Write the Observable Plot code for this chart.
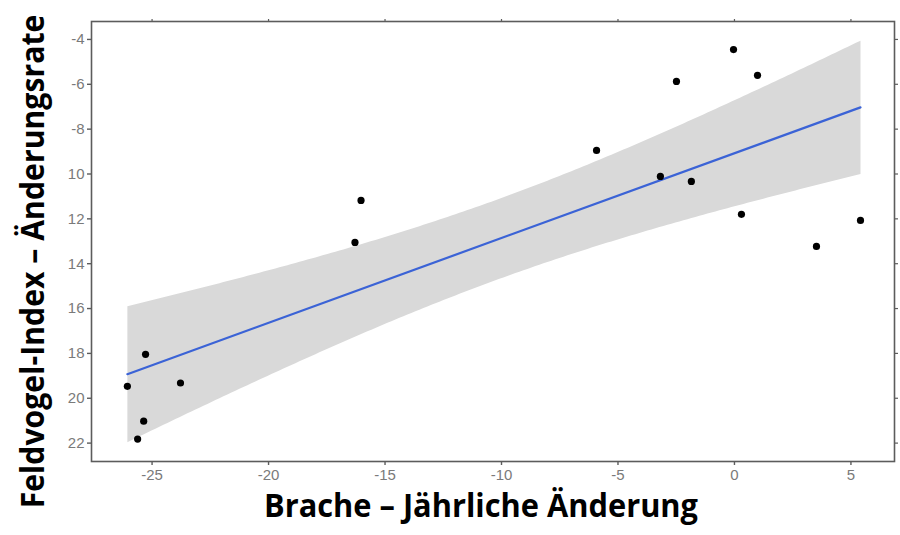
<!DOCTYPE html>
<html>
<head>
<meta charset="utf-8">
<script src="https://cdn.jsdelivr.net/npm/d3@7"></script>
<script src="https://cdn.jsdelivr.net/npm/@observablehq/plot@0.6"></script>
<style>
  html, body { margin: 0; padding: 0; background: #ffffff; }
  #chart { width: 900px; height: 535px; }
</style>
</head>
<body>
<div id="chart"></div>
<script>
// Data
const bracheChange  = [-26.06, -25.28, -25.36, -25.62, -23.78, -16.29, -16.03, -5.92, -3.18, -1.85, -2.49, -0.04, 0.99, 0.30, 3.52, 5.41];
const feldvogelRate = [-19.47, -18.04, -21.02, -21.82, -19.32, -13.05, -11.18, -8.95, -10.11, -10.33, -5.87, -4.45, -5.60, -11.80, -13.23, -12.07];

const xTicks = [-25, -20, -15, -10, -5, 0, 5];
const xTickLabels = ["-25", "-20", "-15", "-10", "-5", "0", "5"];
const yTicks = [-4, -6, -8, -10, -12, -14, -16, -18, -20, -22];
const yTickLabels = ["-4", "-6", "-8", "10", "12", "14", "16", "18", "20", "22"];

const xTitle = "Brache – Jährliche Änderung";
const yTitle = "Feldvogel-Index – Änderungsrate";

const data = bracheChange.map((x, i) => ({x, y: feldvogelRate[i]}));

const axisColor = "#5c5c5c";
const labelColor = "#7a7a7a";
const titleFont = "'Open Sans', 'Liberation Sans', sans-serif";

const chart = Plot.plot({
  width: 900,
  height: 535,
  marginLeft: 91,
  marginRight: 6,
  marginTop: 21,
  marginBottom: 74,
  style: {fontFamily: "'Liberation Sans', Arial, sans-serif", fontSize: "15px", background: "#ffffff"},
  x: {domain: [-27.6, 6.87], axis: null},
  y: {domain: [-22.82, -3.2], axis: null},
  marks: [
    Plot.linearRegressionY(data, {x: "x", y: "y", fill: "#d9d9d9", fillOpacity: 1, stroke: "#3b63d6", strokeWidth: 2.2}),
    Plot.dot(data, {x: "x", y: "y", r: 3.6, fill: "#000000", stroke: "none"}),
    Plot.frame({stroke: axisColor, strokeWidth: 1.6}),
    Plot.axisX(xTicks, {anchor: "bottom", tickFormat: d => xTickLabels[xTicks.indexOf(d)], tickSize: 4, tickPadding: 4, stroke: axisColor, strokeWidth: 1.4, fill: labelColor, label: null}),
    Plot.axisX(xTicks, {anchor: "top", tickFormat: () => "", tickSize: 3, stroke: axisColor, strokeWidth: 1.2, label: null}),
    Plot.axisY(yTicks, {anchor: "left", tickFormat: d => yTickLabels[yTicks.indexOf(d)], tickSize: 4, tickPadding: 3, stroke: axisColor, strokeWidth: 1.4, fill: labelColor, label: null}),
    Plot.axisY(yTicks, {anchor: "right", tickFormat: () => "", tickSize: 3, stroke: axisColor, strokeWidth: 1.2, label: null}),
    Plot.text([xTitle], {frameAnchor: "bottom", textAnchor: "middle", dx: -12, dy: 55, fontSize: 32, fontWeight: "bold", fill: "#000000", fontFamily: titleFont, className: "xtitle"}),
    Plot.text([yTitle], {frameAnchor: "left", textAnchor: "middle", rotate: -90, dx: -58, dy: 20, fontSize: 32, fontWeight: "bold", fill: "#000000", fontFamily: titleFont, className: "ytitle"})
  ]
});

document.getElementById("chart").appendChild(chart);

// Fit title widths to the reference
d3.select(chart).selectAll("g.xtitle text")
  .attr("textLength", 434).attr("lengthAdjust", "spacingAndGlyphs");
const yLen = 494;
d3.select(chart).selectAll("g.ytitle text").each(function() {
  const natural = this.getComputedTextLength();
  const k = natural > 0 ? yLen / natural : 1;
  const t = this.getAttribute("transform") || "";
  this.setAttribute("transform", t + ` scale(${k},1)`);
});
</script>
</body>
</html>
